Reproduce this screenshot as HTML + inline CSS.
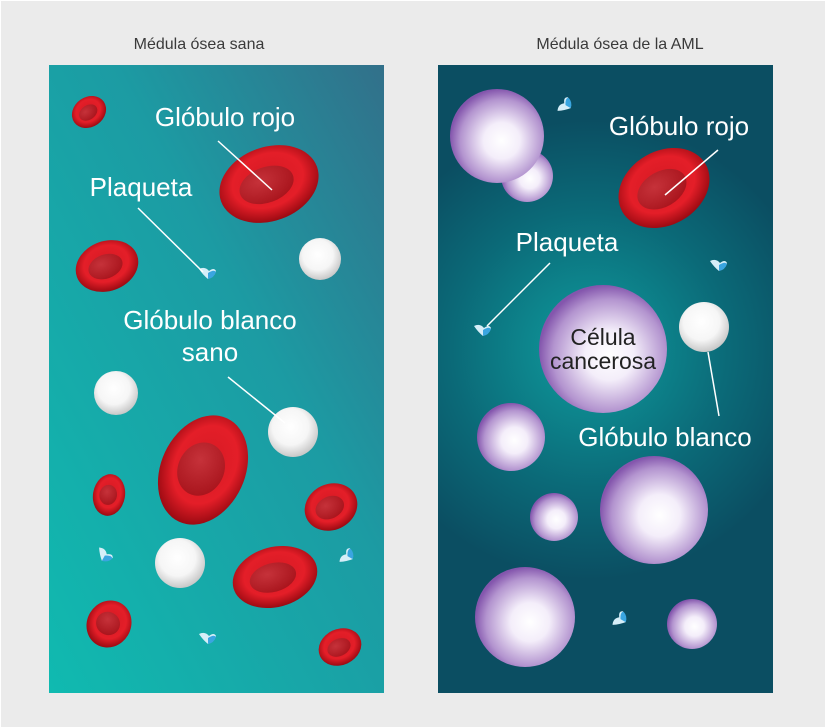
<!DOCTYPE html>
<html><head><meta charset="utf-8"><style>html,body{margin:0;padding:0;background:#ebebeb}svg{display:block}</style></head><body>
<svg width="826" height="728" viewBox="0 0 826 728" xmlns="http://www.w3.org/2000/svg" font-family="Liberation Sans, sans-serif">
<defs>
<linearGradient id="lg" x1="0" y1="1" x2="1" y2="0"><stop offset="0" stop-color="#10bab0"/><stop offset="0.6" stop-color="#1c9ba3"/><stop offset="1" stop-color="#32708a"/></linearGradient>
<radialGradient id="rg" cx="590" cy="350" r="230" gradientUnits="userSpaceOnUse"><stop offset="0" stop-color="#0f9c9e"/><stop offset="0.6" stop-color="#0b6a78"/><stop offset="1" stop-color="#0b4e62"/></radialGradient>
<radialGradient id="red" cx="0.5" cy="0.45" r="0.55"><stop offset="0" stop-color="#d41a24"/><stop offset="0.65" stop-color="#e41e28"/><stop offset="1" stop-color="#9a0a12"/></radialGradient>
<radialGradient id="redin" cx="0.4" cy="0.35" r="0.7"><stop offset="0" stop-color="#c6323a"/><stop offset="1" stop-color="#a8141c"/></radialGradient>
<radialGradient id="wh" cx="0.45" cy="0.4" r="0.6"><stop offset="0" stop-color="#ffffff"/><stop offset="0.6" stop-color="#f6f6f6"/><stop offset="1" stop-color="#c8c8c8"/></radialGradient>
<radialGradient id="pu" cx="0.55" cy="0.55" r="0.55"><stop offset="0" stop-color="#ffffff"/><stop offset="0.35" stop-color="#f4eefa"/><stop offset="0.8" stop-color="#b394cf"/><stop offset="1" stop-color="#8456ad"/></radialGradient>
<g id="rbc"><ellipse rx="1" ry="1" fill="url(#red)"/><ellipse cx="-0.05" cy="0" rx="0.55" ry="0.48" fill="url(#redin)"/></g>
<g id="pl"><path d="M-8,-4 Q-2,-7 2,-2 Q7,-6 9,-2 Q7,4 1,6 Q-4,2 -8,-4Z" fill="#d6eef8"/><path d="M1,0 Q7,-4 9,-1 Q7,5 1,6Z" fill="#3aa5e0"/></g>
</defs>
<rect x="0.5" y="0.5" width="825" height="727" fill="#ebebeb" stroke="#fff"/>
<text x="199" y="49" font-size="16" fill="#3a3a3a" text-anchor="middle">Médula ósea sana</text>
<text x="620" y="49" font-size="16" fill="#3a3a3a" text-anchor="middle">Médula ósea de la AML</text>
<rect x="49" y="65" width="335" height="628" fill="url(#lg)"/>
<rect x="438" y="65" width="335" height="628" fill="url(#rg)"/>
<use href="#rbc" transform="translate(89,112) rotate(-35) scale(18,15)"/>
<use href="#rbc" transform="translate(269,184) rotate(-20) scale(51,37)"/>
<use href="#rbc" transform="translate(107,266) rotate(-20) scale(32,25)"/>
<use href="#rbc" transform="translate(203,470) rotate(25) scale(42,57)"/>
<use href="#rbc" transform="translate(109,495) rotate(10) scale(16,21)"/>
<use href="#rbc" transform="translate(331,507) rotate(-25) scale(27,23)"/>
<use href="#rbc" transform="translate(275,577) rotate(-15) scale(43,30)"/>
<use href="#rbc" transform="translate(109,624) rotate(30) scale(22,24)"/>
<use href="#rbc" transform="translate(340,647) rotate(-25) scale(22,18)"/>
<circle cx="320" cy="259" r="21" fill="url(#wh)"/>
<circle cx="116" cy="393" r="22" fill="url(#wh)"/>
<circle cx="293" cy="432" r="25" fill="url(#wh)"/>
<circle cx="180" cy="563" r="25" fill="url(#wh)"/>
<use href="#pl" transform="translate(207,273)"/>
<use href="#pl" transform="translate(104,555) rotate(30)"/>
<use href="#pl" transform="translate(347,557) rotate(-60)"/>
<use href="#pl" transform="translate(207,638)"/>
<g stroke="#fff" stroke-width="1.5"><line x1="218" y1="141" x2="272" y2="190"/><line x1="138" y1="208" x2="203" y2="272"/><line x1="228" y1="377" x2="285" y2="423"/></g>
<g fill="#fff" font-size="26" text-anchor="middle">
<text x="225" y="126">Glóbulo rojo</text><text x="141" y="196">Plaqueta</text><text x="210" y="329">Glóbulo blanco</text><text x="210" y="361">sano</text></g>
<circle cx="527" cy="176" r="26" fill="url(#pu)"/>
<circle cx="497" cy="136" r="47" fill="url(#pu)"/>
<use href="#rbc" transform="translate(664,188) rotate(-30) scale(48,37)"/>
<circle cx="603" cy="349" r="64" fill="url(#pu)"/>
<circle cx="704" cy="327" r="25" fill="url(#wh)"/>
<circle cx="511" cy="437" r="34" fill="url(#pu)"/>
<circle cx="554" cy="517" r="24" fill="url(#pu)"/>
<circle cx="654" cy="510" r="54" fill="url(#pu)"/>
<circle cx="525" cy="617" r="50" fill="url(#pu)"/>
<circle cx="692" cy="624" r="25" fill="url(#pu)"/>
<use href="#pl" transform="translate(565,106) rotate(-60)"/>
<use href="#pl" transform="translate(718,265)"/>
<use href="#pl" transform="translate(482,330)"/>
<use href="#pl" transform="translate(620,620) rotate(-60)"/>
<g stroke="#fff" stroke-width="1.5"><line x1="718" y1="150" x2="665" y2="195"/><line x1="550" y1="263" x2="487" y2="326"/><line x1="708" y1="352" x2="719" y2="416"/></g>
<g fill="#fff" font-size="26" text-anchor="middle">
<text x="679" y="135">Glóbulo rojo</text><text x="567" y="251">Plaqueta</text><text x="665" y="446">Glóbulo blanco</text></g>
<g fill="#222" font-size="23" text-anchor="middle"><text x="603" y="345">Célula</text><text x="603" y="369">cancerosa</text></g>
</svg>
</body></html>
